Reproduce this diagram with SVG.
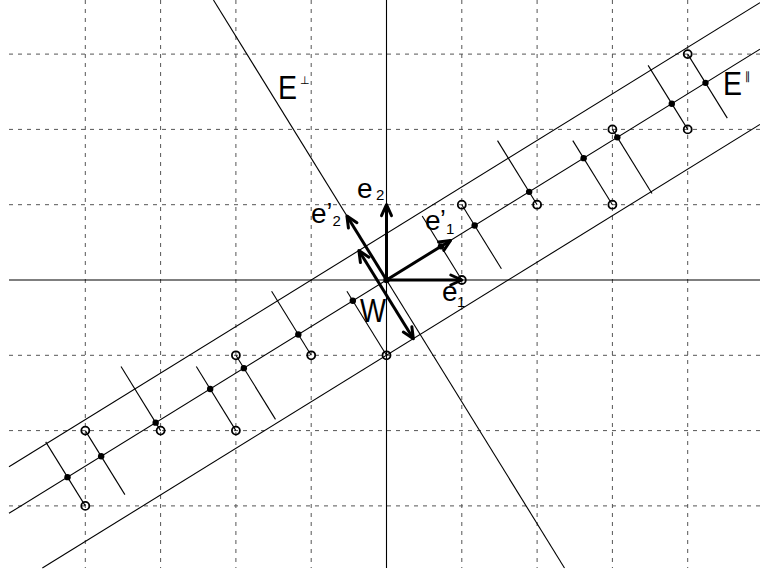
<svg xmlns="http://www.w3.org/2000/svg" width="760" height="572" viewBox="0 0 760 572">
<style>
.grid{stroke:#555;stroke-width:1;stroke-dasharray:4 5;fill:none}
.ln{stroke:#000;stroke-width:1.1;fill:none}
.vec{stroke:#000;stroke-width:3;fill:none;marker-end:url(#ah)}
.pt{fill:#fff;fill-opacity:0;stroke:#000;stroke-width:1.8}
.dot{fill:#000}
text{font-family:"Liberation Sans",Arial,sans-serif;fill:#000}
.lab{font-size:28px}
.sub{font-size:15px}
.pr{font-size:26px}
.big{font-size:34px}
.sup{font-size:11px;font-family:"DejaVu Sans",sans-serif}
</style>
<defs>
<marker id="ah" markerUnits="userSpaceOnUse" viewBox="-14 -8 16 16" markerWidth="16" markerHeight="16" refX="0" refY="0" orient="auto-start-reverse" overflow="visible">
<path d="M-11,-5 L0,0 L-11,5" fill="none" stroke="#000" stroke-width="3" stroke-linecap="round" stroke-linejoin="round"/>
</marker>
</defs>
<rect width="760" height="572" fill="#fff"/>
<g id="grid">
<line class="grid" x1="85.3" y1="0" x2="85.3" y2="568"/>
<line class="grid" x1="160.6" y1="0" x2="160.6" y2="568"/>
<line class="grid" x1="235.9" y1="0" x2="235.9" y2="568"/>
<line class="grid" x1="311.2" y1="0" x2="311.2" y2="568"/>
<line class="grid" x1="461.8" y1="0" x2="461.8" y2="568"/>
<line class="grid" x1="537.1" y1="0" x2="537.1" y2="568"/>
<line class="grid" x1="612.4" y1="0" x2="612.4" y2="568"/>
<line class="grid" x1="687.7" y1="0" x2="687.7" y2="568"/>
<line class="grid" x1="9" y1="54.1" x2="760" y2="54.1"/>
<line class="grid" x1="9" y1="129.4" x2="760" y2="129.4"/>
<line class="grid" x1="9" y1="204.7" x2="760" y2="204.7"/>
<line class="grid" x1="9" y1="355.3" x2="760" y2="355.3"/>
<line class="grid" x1="9" y1="430.6" x2="760" y2="430.6"/>
<line class="grid" x1="9" y1="505.9" x2="760" y2="505.9"/>
</g>
<g id="axes">
<line class="ln" x1="9" y1="280" x2="760" y2="280"/>
<line class="ln" x1="386.5" y1="0" x2="386.5" y2="568"/>
</g>
<g id="subspaces">
<line id="E-par" class="ln" x1="9" y1="513.31" x2="760" y2="49.16"/>
<line id="strip-upper" class="ln" x1="9" y1="466.77" x2="760" y2="2.63"/>
<line id="strip-lower" class="ln" x1="42.35" y1="568" x2="760" y2="124.46"/>
<line id="E-perp" class="ln" x1="213.45" y1="0" x2="564.5" y2="568"/>
</g>
<g id="connectors">
<line class="ln" x1="687.7" y1="54.1" x2="727.29" y2="118.15"/>
<line class="ln" x1="687.7" y1="129.4" x2="648.11" y2="65.35"/>
<line class="ln" x1="612.4" y1="129.4" x2="651.99" y2="193.45"/>
<line class="ln" x1="612.4" y1="204.7" x2="572.81" y2="140.65"/>
<line class="ln" x1="537.1" y1="204.7" x2="497.51" y2="140.65"/>
<line class="ln" x1="461.8" y1="204.7" x2="501.39" y2="268.75"/>
<line class="ln" x1="461.8" y1="280" x2="422.21" y2="215.95"/>
<line class="ln" x1="386.5" y1="355.3" x2="346.91" y2="291.25"/>
<line class="ln" x1="311.2" y1="355.3" x2="271.61" y2="291.25"/>
<line class="ln" x1="235.9" y1="355.3" x2="275.49" y2="419.35"/>
<line class="ln" x1="235.9" y1="430.6" x2="196.31" y2="366.55"/>
<line class="ln" x1="160.6" y1="430.6" x2="121.01" y2="366.55"/>
<line class="ln" x1="85.3" y1="430.6" x2="124.89" y2="494.65"/>
<line class="ln" x1="85.3" y1="505.9" x2="45.71" y2="441.85"/>
</g>
<g id="projected-points">
<circle class="dot" cx="705.49" cy="82.86" r="3.2"/>
<circle class="dot" cx="671.81" cy="103.68" r="3.2"/>
<circle class="dot" cx="617.32" cy="137.35" r="3.2"/>
<circle class="dot" cx="583.64" cy="158.16" r="3.2"/>
<circle class="dot" cx="529.15" cy="191.84" r="3.2"/>
<circle class="dot" cx="474.66" cy="225.51" r="3.2"/>
<circle class="dot" cx="440.99" cy="246.33" r="3.2"/>
<circle class="dot" cx="386.5" cy="280" r="3.2"/>
<circle class="dot" cx="352.82" cy="300.81" r="3.2"/>
<circle class="dot" cx="298.34" cy="334.49" r="3.2"/>
<circle class="dot" cx="243.85" cy="368.16" r="3.2"/>
<circle class="dot" cx="210.17" cy="388.97" r="3.2"/>
<circle class="dot" cx="155.68" cy="422.65" r="3.2"/>
<circle class="dot" cx="101.19" cy="456.32" r="3.2"/>
<circle class="dot" cx="67.51" cy="477.14" r="3.2"/>
</g>
<g id="lattice-points">
<circle class="pt" cx="687.7" cy="54.1" r="4"/>
<circle class="pt" cx="687.7" cy="129.4" r="4"/>
<circle class="pt" cx="612.4" cy="129.4" r="4"/>
<circle class="pt" cx="612.4" cy="204.7" r="4"/>
<circle class="pt" cx="537.1" cy="204.7" r="4"/>
<circle class="pt" cx="461.8" cy="204.7" r="4"/>
<circle class="pt" cx="461.8" cy="280" r="4"/>
<circle class="pt" cx="386.5" cy="355.3" r="4"/>
<circle class="pt" cx="311.2" cy="355.3" r="4"/>
<circle class="pt" cx="235.9" cy="355.3" r="4"/>
<circle class="pt" cx="235.9" cy="430.6" r="4"/>
<circle class="pt" cx="160.6" cy="430.6" r="4"/>
<circle class="pt" cx="85.3" cy="430.6" r="4"/>
<circle class="pt" cx="85.3" cy="505.9" r="4"/>
</g>
<g id="vectors">
<line id="e1" class="vec" x1="386.5" y1="280" x2="461.8" y2="280"/>
<line id="e2" class="vec" x1="386.5" y1="280" x2="386.5" y2="204.7"/>
<line id="e1p" class="vec" x1="386.5" y1="280" x2="450.56" y2="240.41"/>
<line id="e2p" class="vec" x1="386.5" y1="280" x2="346.91" y2="215.95"/>
<line id="W" class="vec" style="marker-start:url(#ah)" x1="358.88" y1="250.53" x2="413.37" y2="338.7"/>
</g>
<g id="labels">
<g id="label-Eperp"><text class="big" x="278" y="99" textLength="19" lengthAdjust="spacingAndGlyphs">E</text><text class="sup" x="300" y="84">⊥</text></g>
<g id="label-Epar"><text class="big" x="723" y="95" textLength="19" lengthAdjust="spacingAndGlyphs">E</text><text class="sup" x="745" y="80">∥</text></g>
<g id="label-W"><text class="big" x="360" y="322" textLength="26" lengthAdjust="spacingAndGlyphs">W</text></g>
<g id="label-e2"><text class="lab" x="357" y="198">e<tspan class="sub" x="376" y="200">2</tspan></text></g>
<g id="label-e2p"><text class="lab" x="311" y="223">e<tspan class="pr" x="326.5" y="221">’</tspan><tspan class="sub" x="332.5" y="226">2</tspan></text></g>
<g id="label-e1p"><text class="lab" x="425" y="230">e<tspan class="pr" x="440" y="228">’</tspan><tspan class="sub" x="446" y="234">1</tspan></text></g>
<g id="label-e1"><text class="lab" x="442" y="301">e<tspan class="sub" x="457" y="307">1</tspan></text></g>
</g>
</svg>
